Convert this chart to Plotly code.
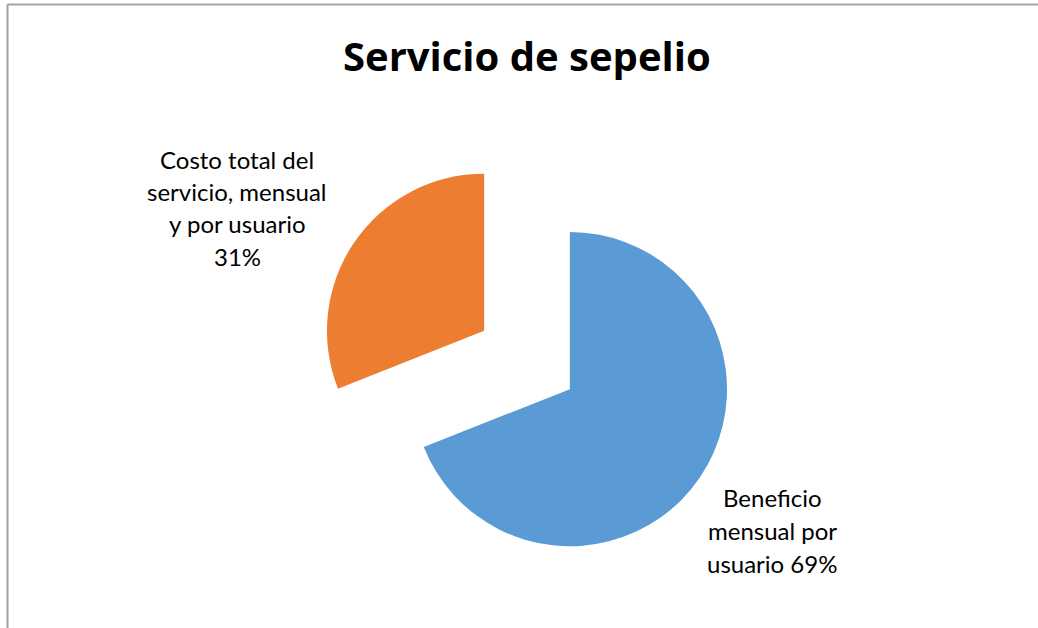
import plotly.graph_objects as go

W, H = 1038, 628

categories = ["Beneficio mensual por usuario", "Costo total del servicio, mensual y por usuario"]
values = [69, 31]
label_lines = [["Beneficio", "mensual por", "usuario 69%"],
               ["Costo total del", "servicio, mensual", "y por usuario", "31%"]]
colors = ["#5B9BD5", "#ED7D31"]
title_text = "Servicio de sepelio"

cx, cy, half = 527, 360, 209

fig = go.Figure(go.Pie(
    labels=categories,
    values=values,
    sort=False,
    direction="clockwise",
    rotation=0,
    pull=[0.33, 0.33],
    marker=dict(colors=colors, line=dict(width=0)),
    textinfo="none",
    hoverinfo="label+percent",
    showlegend=False,
    domain=dict(x=[(cx - half) / W, (cx + half) / W],
                y=[1 - (cy + half) / H, 1 - (cy - half) / H]),
))

label_font = "Lato, 'Open Sans', sans-serif"
# data labels, one annotation per line
label_pos = [(772, 497, 33), (237, 160, 32)]
for lines, (px, py0, step) in zip(label_lines, label_pos):
    for i, line in enumerate(lines):
        py = py0 + i * step
        fig.add_annotation(text=line, x=px / W, y=1 - py / H, xref="paper", yref="paper",
                           xanchor="center", yanchor="middle", showarrow=False, align="center",
                           font=dict(family=label_font, size=24, color="#000000"))

fig.add_annotation(text="<b>" + title_text + "</b>", x=cx / W, y=1 - 55 / H, xref="paper", yref="paper",
                   xanchor="center", yanchor="middle", showarrow=False,
                   font=dict(family="'Open Sans', Lato, sans-serif", size=40, color="#000000"))

# chart frame (top and left edges visible)
fig.add_shape(type="line", xref="paper", yref="paper", x0=7.5 / W, x1=1, y0=1 - 4.5 / H, y1=1 - 4.5 / H,
              line=dict(color="#A6A6A6", width=2))
fig.add_shape(type="line", xref="paper", yref="paper", x0=7.5 / W, x1=7.5 / W, y0=0, y1=1 - 4.5 / H,
              line=dict(color="#A0A0A0", width=2))

fig.update_layout(width=W, height=H, margin=dict(l=0, r=0, t=0, b=0),
                  paper_bgcolor="white", plot_bgcolor="white")

fig.write_html("out.html", config={"displayModeBar": False},
               post_script="document.body.style.margin='0';")
